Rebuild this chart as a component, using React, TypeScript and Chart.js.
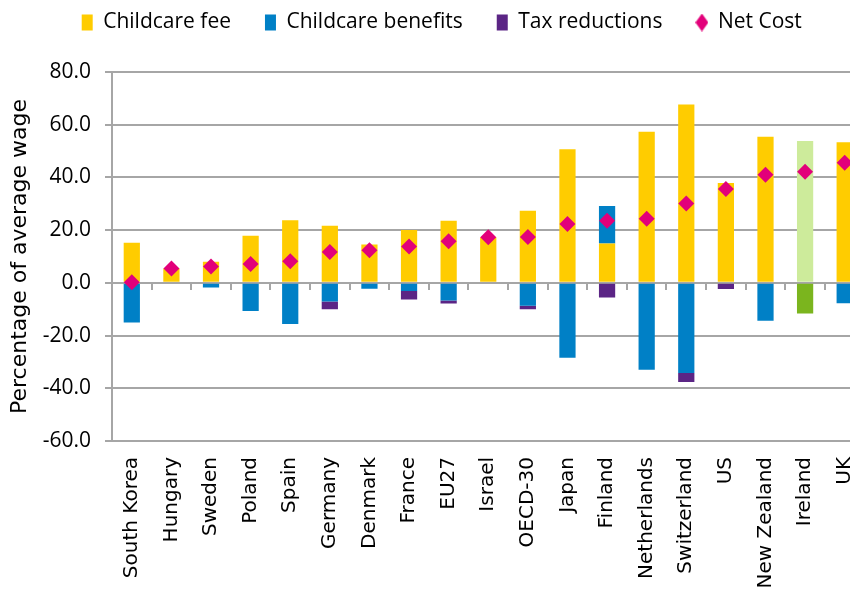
import React, { useEffect, useRef } from "react";
import { Chart, registerables } from "chart.js";

Chart.register(...registerables);

const countries = [
  "South Korea", "Hungary", "Sweden", "Poland", "Spain", "Germany", "Denmark", "France", "EU27",
  "Israel", "OECD-30", "Japan", "Finland", "Netherlands", "Switzerland", "US", "New Zealand", "Ireland", "UK",
];
const childcareFee = [15.2, 5.4, 8.0, 17.9, 23.8, 21.7, 14.6, 20.1, 23.6, 17.3, 27.4, 50.7, 14.9, 57.3, 67.7, 37.9, 55.4, 53.8, 53.3];
const childcareBenefits = [-15.0, 0, -1.8, -10.7, -15.6, -7.1, -2.2, -3.1, -6.7, 0, -8.7, -28.4, 14.3, -33.0, -34.2, 0, -14.4, -11.6, -7.7];
const taxReductions = [0, 0, 0, 0, 0, -2.9, 0, -3.2, -1.1, 0, -1.3, 0, -5.6, 0, -3.4, -2.3, 0, 0, 0];
const netCost = [0.2, 5.4, 6.2, 7.2, 8.2, 11.7, 12.4, 13.8, 15.8, 17.3, 17.4, 22.3, 23.6, 24.3, 30.1, 35.6, 41.0, 42.2, 45.6];
const yMin = -60;
const yMax = 80;
const yStep = 20;

const FEE = "#FFCC00";
const BEN = "#0080C6";
const TAX = "#5B2585";
const NET = "#E2007A";
const IRL_FEE = "#CDEB9B";
const IRL_BEN = "#7BB51E";
const GRID = "#a6a6a6";

export default function App() {
  const ref = useRef<HTMLCanvasElement>(null);

  useEffect(() => {
    const diamond = document.createElement("canvas");
    diamond.width = 13;
    diamond.height = 18;
    const dctx = diamond.getContext("2d")!;
    dctx.fillStyle = NET;
    dctx.beginPath();
    dctx.moveTo(6.5, 0);
    dctx.lineTo(13, 9);
    dctx.lineTo(6.5, 18);
    dctx.lineTo(0, 9);
    dctx.closePath();
    dctx.fill();

    const chart = new Chart(ref.current!, {
      type: "bar",
      data: {
        labels: countries,
        datasets: [
          {
            type: "bar",
            label: "Childcare fee",
            data: childcareFee,
            backgroundColor: countries.map((c) => (c === "Ireland" ? IRL_FEE : FEE)),
            order: 1,
            categoryPercentage: 1,
            barPercentage: 0.41,
          },
          {
            type: "bar",
            label: "Childcare benefits",
            data: childcareBenefits,
            backgroundColor: countries.map((c) => (c === "Ireland" ? IRL_BEN : BEN)),
            order: 1,
            categoryPercentage: 1,
            barPercentage: 0.41,
          },
          {
            type: "bar",
            label: "Tax reductions",
            data: taxReductions,
            backgroundColor: TAX,
            order: 1,
            categoryPercentage: 1,
            barPercentage: 0.41,
          },
          {
            type: "line",
            label: "Net Cost",
            data: netCost,
            showLine: false,
            pointStyle: "rectRot",
            pointRadius: 8,
            pointHoverRadius: 8,
            pointBorderWidth: 0,
            backgroundColor: NET,
            borderColor: NET,
            order: 0,
            stack: "net",
          } as any,
        ],
      },
      options: {
        animation: false,
        responsive: false,
        layout: { padding: { top: -22, left: 19, right: 15.5, bottom: 0 } },
        plugins: {
          tooltip: { enabled: false },
          legend: {
            labels: {
              usePointStyle: true,
              pointStyleWidth: 11,
              boxHeight: 16,
              padding: 34,
              color: "#000",
              font: { family: "Open Sans", size: 21 },
              sort: (a: any, b: any) => a.datasetIndex - b.datasetIndex,
              generateLabels: (ch: any) => {
                const items = Chart.defaults.plugins.legend.labels.generateLabels(ch);
                return items.map((it: any) => ({
                  ...it,
                  fillStyle: [FEE, BEN, TAX, NET][it.datasetIndex],
                  strokeStyle: "rgba(0,0,0,0)",
                  lineWidth: 0,
                  pointStyle: it.datasetIndex === 3 ? diamond : "rect",
                }));
              },
            },
          } as any,
        },
        scales: {
          x: {
            stacked: true,
            position: "bottom",
            grid: { display: false },
            border: { display: false },
            ticks: {
              autoSkip: false,
              minRotation: 90,
              maxRotation: 90,
              padding: 8,
              color: "#000",
              font: { family: "DejaVu Sans", size: 20 },
            },
            afterFit: (s: any) => {
              s.height = 148;
            },
          },
          xTop: {
            type: "category",
            labels: countries,
            position: "top",
            grid: { display: false },
            border: { display: false },
            ticks: { display: false },
            afterFit: (s: any) => {
              s.height = 29;
            },
          },
          x2: {
            type: "category",
            labels: countries,
            position: { y: 0 } as any,
            offset: true,
            grid: { display: true, offset: true, drawOnChartArea: false, drawTicks: true, tickLength: 7, color: GRID, lineWidth: 2 },
            border: { display: false },
            ticks: { display: false },
          },
          y: {
            stacked: true,
            min: yMin,
            max: yMax,
            ticks: {
              stepSize: yStep,
              padding: 14,
              color: "#000",
              font: { family: "Open Sans", size: 21 },
              callback: (v: any) => Number(v).toFixed(1),
            },
            grid: { color: GRID, lineWidth: 2, tickLength: 7 },
            border: { color: GRID, width: 2 },
            title: {
              display: true,
              text: "Percentage of average wage",
              color: "#000",
              font: { family: "DejaVu Sans", size: 22 },
              padding: { top: -12, bottom: 0 },
            },
            afterFit: (s: any) => {
              s.width = 93;
            },
          },
        },
      } as any,
    });
    return () => chart.destroy();
  }, []);

  return (
    <div style={{ position: "fixed", left: 0, top: 0, width: 850, height: 589, overflow: "hidden", background: "#fff" }}>
      <canvas ref={ref} width={880} height={589} style={{ display: "block" }} />
    </div>
  );
}
